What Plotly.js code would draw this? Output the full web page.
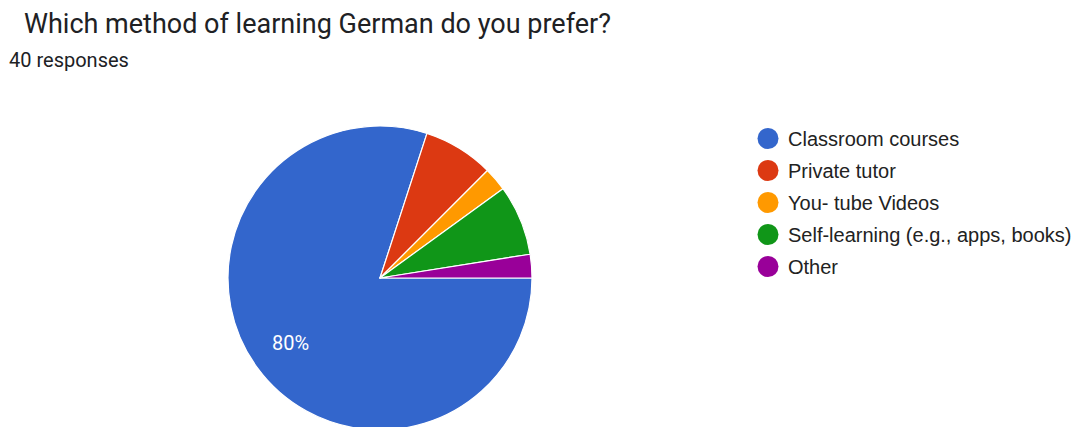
<!DOCTYPE html>
<html>
<head>
<meta charset="utf-8">
<script src="https://cdn.plot.ly/plotly-3.0.1.min.js"></script>
<style>
html,body{margin:0;padding:0;background:#fff;overflow:hidden;width:1080px;height:427px;}
#chart{width:1080px;height:430px;}
</style>
</head>
<body>
<div id="chart"></div>
<script>
const categories = ["Classroom courses", "Private tutor", "You- tube Videos", "Self-learning (e.g., apps, books)", "Other"];
const counts = [32, 3, 1, 3, 1];
const colors = ["#3366cc", "#dc3912", "#ff9900", "#109618", "#990099"];
const titleText = "Which method of learning German do you prefer?";
const subtitleText = "40 responses";

const total = counts.reduce((a, b) => a + b, 0);

const W = 1080, H = 430, T = 126;
const cx = 380, r = 152;
const domX = [(cx - r) / W, (cx + r) / W];
const startDeg = 90; // clockwise from 12 o'clock

// percentage labels for large slices, placed at the slice's mid-angle
const labelAnnotations = [];
let cum = 0;
counts.forEach((v, i) => {
  const frac = v / total;
  if (frac >= 0.1) {
    const mid = (startDeg + (cum + frac / 2) * 360) * Math.PI / 180;
    const rr = 0.73 * r;
    const px = cx + rr * Math.sin(mid);
    const py = (T + r) - rr * Math.cos(mid);
    labelAnnotations.push({
      text: Math.round(frac * 100) + "%",
      xref: "paper", yref: "paper",
      x: px / W, y: (H - py) / (H - T),
      xanchor: "center", yanchor: "middle",
      showarrow: false,
      font: {family: "Roboto, Arial, sans-serif", size: 20, color: "#ffffff"}
    });
  }
  cum += frac;
});

const pie = {
  type: "pie",
  values: counts,
  labels: categories,
  textinfo: "none",
  marker: {colors: colors, line: {color: "#ffffff", width: 1.2}},
  sort: false,
  direction: "clockwise",
  rotation: startDeg,
  showlegend: false,
  hoverinfo: "label+percent",
  domain: {x: domX, y: [0, 1]}
};

const legendTraces = categories.map((c, i) => ({
  type: "scatter",
  mode: "markers",
  x: [null], y: [null],
  name: c,
  legendgroup: "g" + i,
  marker: {color: colors[i], size: 16, symbol: "circle"},
  showlegend: true,
  hoverinfo: "skip"
}));

const layout = {
  width: W, height: H,
  margin: {l: 0, r: 0, t: T, b: 0},
  paper_bgcolor: "#ffffff",
  plot_bgcolor: "#ffffff",
  xaxis: {visible: false},
  yaxis: {visible: false},
  title: {
    text: titleText,
    font: {family: "Roboto, Arial, sans-serif", size: 27, color: "#202124"},
    xref: "paper", x: 24 / W, xanchor: "left",
    yref: "container", y: 1 - 24 / H, yanchor: "middle"
  },
  annotations: [{
    text: subtitleText,
    xref: "paper", yref: "paper",
    x: 7 / W, xanchor: "left",
    y: (H - 60) / (H - T), yanchor: "middle",
    showarrow: false,
    font: {family: "Roboto, Arial, sans-serif", size: 20, color: "#202124"}
  }].concat(labelAnnotations),
  legend: {
    x: 748 / W, xanchor: "left",
    y: (H - 119) / (H - T), yanchor: "top",
    font: {family: "Liberation Sans, Arial, sans-serif", size: 20, color: "#222222"},
    tracegroupgap: 3,
    bgcolor: "rgba(0,0,0,0)"
  },
  showlegend: true
};

const gd = document.getElementById("chart");
function bigLegendDots() {
  const R = 10.5;
  gd.querySelectorAll(".legend .legendpoints path.scatterpts").forEach(p => {
    p.setAttribute("d", `M${R},0A${R},${R} 0 1,1 0,-${R}A${R},${R} 0 0,1 ${R},0Z`);
  });
}
Plotly.newPlot(gd, [pie].concat(legendTraces), layout, {displayModeBar: false, staticPlot: true}).then(bigLegendDots);
gd.on && gd.on("plotly_afterplot", bigLegendDots);
</script>
</body>
</html>
